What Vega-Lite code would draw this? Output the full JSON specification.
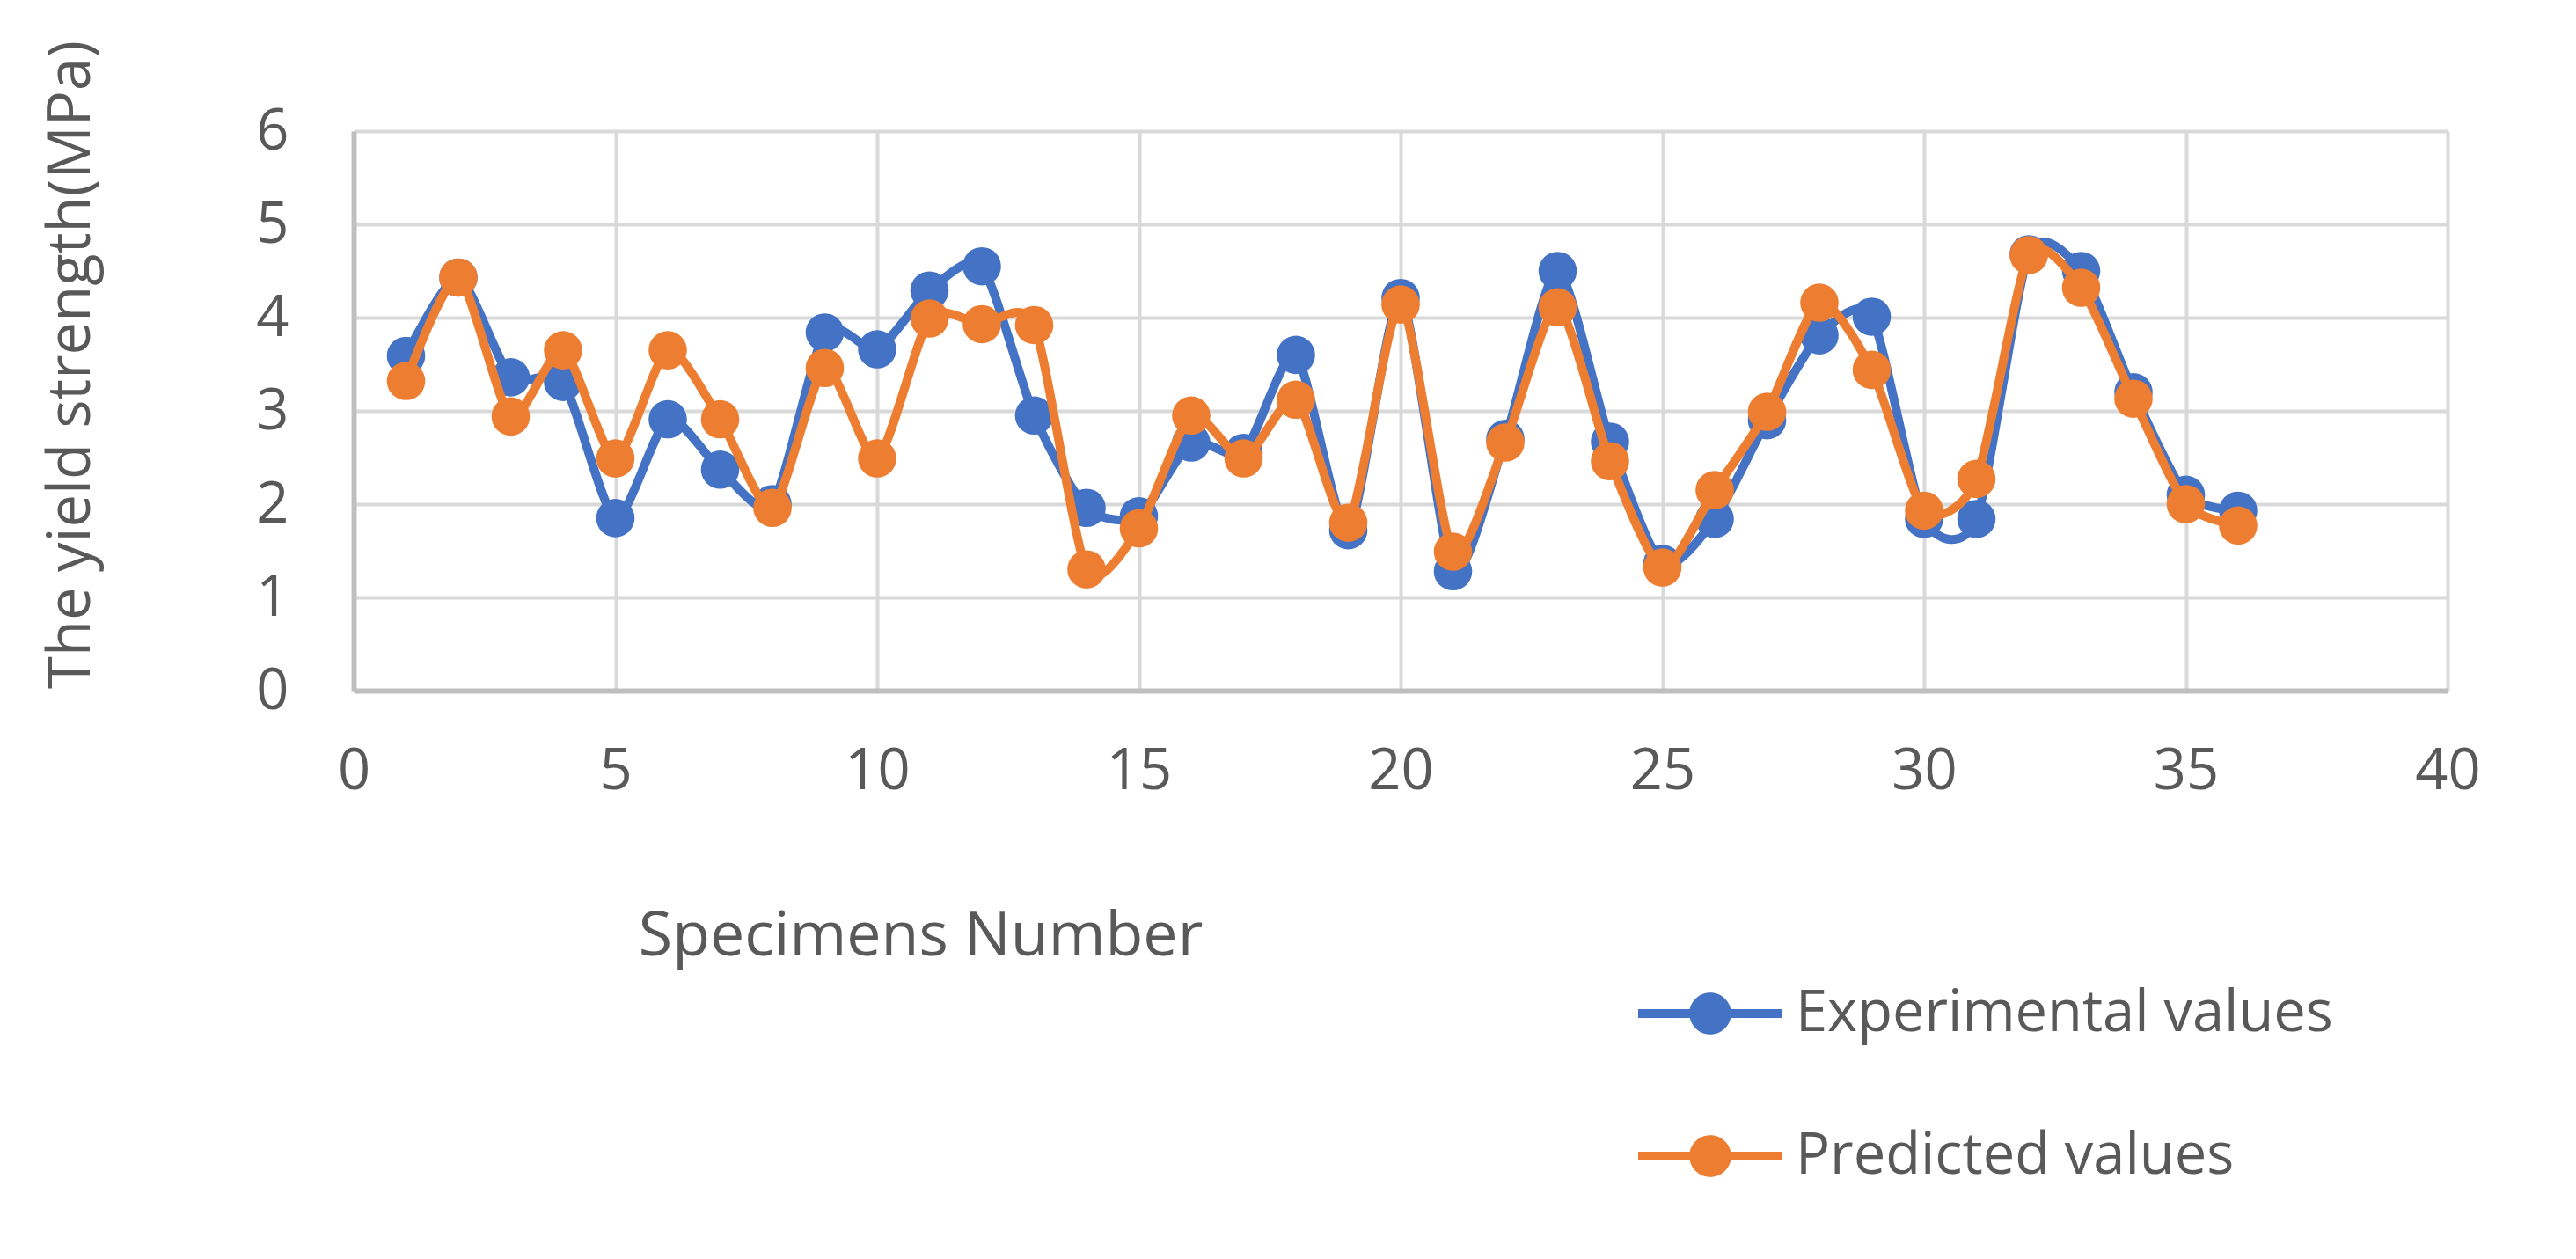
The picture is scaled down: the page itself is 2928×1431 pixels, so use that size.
{
  "$schema": "https://vega.github.io/schema/vega-lite/v6.json",
  "autosize": "none",
  "width": 2380,
  "height": 636,
  "padding": {"left": 402, "top": 149, "right": 146, "bottom": 646},
  "background": "white",
  "config": {
    "view": {"stroke": null},
    "font": "Open Sans"
  },
  "data": {
    "values": [
      {"n": 1, "series": "Experimental values", "v": 3.59}, {"n": 2, "series": "Experimental values", "v": 4.43},
      {"n": 3, "series": "Experimental values", "v": 3.36}, {"n": 4, "series": "Experimental values", "v": 3.31},
      {"n": 5, "series": "Experimental values", "v": 1.85}, {"n": 6, "series": "Experimental values", "v": 2.91},
      {"n": 7, "series": "Experimental values", "v": 2.37}, {"n": 8, "series": "Experimental values", "v": 2.0},
      {"n": 9, "series": "Experimental values", "v": 3.84}, {"n": 10, "series": "Experimental values", "v": 3.66},
      {"n": 11, "series": "Experimental values", "v": 4.29}, {"n": 12, "series": "Experimental values", "v": 4.55},
      {"n": 13, "series": "Experimental values", "v": 2.95}, {"n": 14, "series": "Experimental values", "v": 1.96},
      {"n": 15, "series": "Experimental values", "v": 1.87}, {"n": 16, "series": "Experimental values", "v": 2.66},
      {"n": 17, "series": "Experimental values", "v": 2.55}, {"n": 18, "series": "Experimental values", "v": 3.6},
      {"n": 19, "series": "Experimental values", "v": 1.72}, {"n": 20, "series": "Experimental values", "v": 4.21},
      {"n": 21, "series": "Experimental values", "v": 1.28}, {"n": 22, "series": "Experimental values", "v": 2.7},
      {"n": 23, "series": "Experimental values", "v": 4.5}, {"n": 24, "series": "Experimental values", "v": 2.67},
      {"n": 25, "series": "Experimental values", "v": 1.36}, {"n": 26, "series": "Experimental values", "v": 1.84},
      {"n": 27, "series": "Experimental values", "v": 2.9}, {"n": 28, "series": "Experimental values", "v": 3.81},
      {"n": 29, "series": "Experimental values", "v": 4.01}, {"n": 30, "series": "Experimental values", "v": 1.84},
      {"n": 31, "series": "Experimental values", "v": 1.84}, {"n": 32, "series": "Experimental values", "v": 4.68},
      {"n": 33, "series": "Experimental values", "v": 4.5}, {"n": 34, "series": "Experimental values", "v": 3.2},
      {"n": 35, "series": "Experimental values", "v": 2.1}, {"n": 36, "series": "Experimental values", "v": 1.93},
      {"n": 1, "series": "Predicted values", "v": 3.32}, {"n": 2, "series": "Predicted values", "v": 4.43},
      {"n": 3, "series": "Predicted values", "v": 2.94}, {"n": 4, "series": "Predicted values", "v": 3.65},
      {"n": 5, "series": "Predicted values", "v": 2.49}, {"n": 6, "series": "Predicted values", "v": 3.65},
      {"n": 7, "series": "Predicted values", "v": 2.91}, {"n": 8, "series": "Predicted values", "v": 1.96},
      {"n": 9, "series": "Predicted values", "v": 3.46}, {"n": 10, "series": "Predicted values", "v": 2.49},
      {"n": 11, "series": "Predicted values", "v": 3.99}, {"n": 12, "series": "Predicted values", "v": 3.93},
      {"n": 13, "series": "Predicted values", "v": 3.92}, {"n": 14, "series": "Predicted values", "v": 1.3},
      {"n": 15, "series": "Predicted values", "v": 1.74}, {"n": 16, "series": "Predicted values", "v": 2.95},
      {"n": 17, "series": "Predicted values", "v": 2.49}, {"n": 18, "series": "Predicted values", "v": 3.12},
      {"n": 19, "series": "Predicted values", "v": 1.8}, {"n": 20, "series": "Predicted values", "v": 4.14},
      {"n": 21, "series": "Predicted values", "v": 1.49}, {"n": 22, "series": "Predicted values", "v": 2.66},
      {"n": 23, "series": "Predicted values", "v": 4.11}, {"n": 24, "series": "Predicted values", "v": 2.46},
      {"n": 25, "series": "Predicted values", "v": 1.32}, {"n": 26, "series": "Predicted values", "v": 2.15},
      {"n": 27, "series": "Predicted values", "v": 2.99}, {"n": 28, "series": "Predicted values", "v": 4.16},
      {"n": 29, "series": "Predicted values", "v": 3.44}, {"n": 30, "series": "Predicted values", "v": 1.93},
      {"n": 31, "series": "Predicted values", "v": 2.27}, {"n": 32, "series": "Predicted values", "v": 4.67},
      {"n": 33, "series": "Predicted values", "v": 4.32}, {"n": 34, "series": "Predicted values", "v": 3.13},
      {"n": 35, "series": "Predicted values", "v": 2.0}, {"n": 36, "series": "Predicted values", "v": 1.77}
    ]
  },
  "encoding": {
    "x": {
      "field": "n", "type": "quantitative",
      "scale": {"domain": [0, 40], "nice": false, "zero": false},
      "axis": {
        "values": [0, 5, 10, 15, 20, 25, 30, 35, 40],
        "title": "Specimens Number",
        "titleFontSize": 70, "titleColor": "#595959", "titleFontWeight": "normal",
        "titleX": 644, "titleY": 300, "titleBaseline": "alphabetic", "titleAlign": "center", "titleAnchor": null,
        "labelFontSize": 65, "labelColor": "#595959", "labelPadding": 60, "labelFlush": false, "labelOverlap": false,
        "ticks": false, "tickSize": 0,
        "domainColor": "#BFBFBF", "domainWidth": 6,
        "grid": true, "gridColor": "#D9D9D9", "gridWidth": 4
      }
    },
    "y": {
      "field": "v", "type": "quantitative",
      "scale": {"domain": [0, 6], "nice": false},
      "axis": {
        "values": [0, 1, 2, 3, 4, 5, 6],
        "title": "The yield strength(MPa)",
        "titleFontSize": 67, "titleColor": "#595959", "titleFontWeight": "normal",
        "titleX": -301, "titleY": 265, "titleAngle": -90, "titleBaseline": "alphabetic", "titleAlign": "center", "titleAnchor": null,
        "labelFontSize": 65, "labelColor": "#595959", "labelPadding": 74, "labelFlush": false, "labelOverlap": false,
        "ticks": false, "tickSize": 0,
        "domainColor": "#BFBFBF", "domainWidth": 6,
        "grid": true, "gridColor": "#D9D9D9", "gridWidth": 4
      }
    },
    "color": {
      "field": "series", "type": "nominal",
      "scale": {"domain": ["Experimental values", "Predicted values"], "range": ["#4472C4", "#ED7D31"]},
      "legend": {
        "title": null,
        "orient": "none",
        "legendX": 1460,
        "legendY": 921,
        "padding": 0,
        "direction": "vertical",
        "symbolType": "M-1,-0.061L1,-0.061L1,0.061L-1,0.061Z M-0.29,0A0.29,0.29 0 1,1 0.29,0A0.29,0.29 0 1,1 -0.29,0Z",
        "symbolSize": 26896,
        "symbolStrokeWidth": 0,
        "symbolOpacity": 1,
        "labelFontSize": 65,
        "labelColor": "#595959",
        "labelOffset": 15,
        "rowPadding": 47,
        "labelLimit": 1000,
        "encode": {
          "symbols": {
            "update": {
              "fill": {"scale": "color", "field": "value"},
              "fillOpacity": {"value": 1},
              "strokeWidth": {"value": 0}
            }
          }
        }
      }
    }
  },
  "layer": [
    {
      "transform": [{"filter": "datum.series === 'Experimental values'"}],
      "mark": {"type": "line", "interpolate": "cardinal", "tension": 0.3, "strokeWidth": 10}
    },
    {
      "transform": [{"filter": "datum.series === 'Experimental values'"}],
      "mark": {"type": "point", "filled": true, "opacity": 1, "size": 1900, "shape": "circle"}
    },
    {
      "transform": [{"filter": "datum.series === 'Predicted values'"}],
      "mark": {"type": "line", "interpolate": "cardinal", "tension": 0.3, "strokeWidth": 10}
    },
    {
      "transform": [{"filter": "datum.series === 'Predicted values'"}],
      "mark": {"type": "point", "filled": true, "opacity": 1, "size": 1900, "shape": "circle"}
    }
  ]
}
